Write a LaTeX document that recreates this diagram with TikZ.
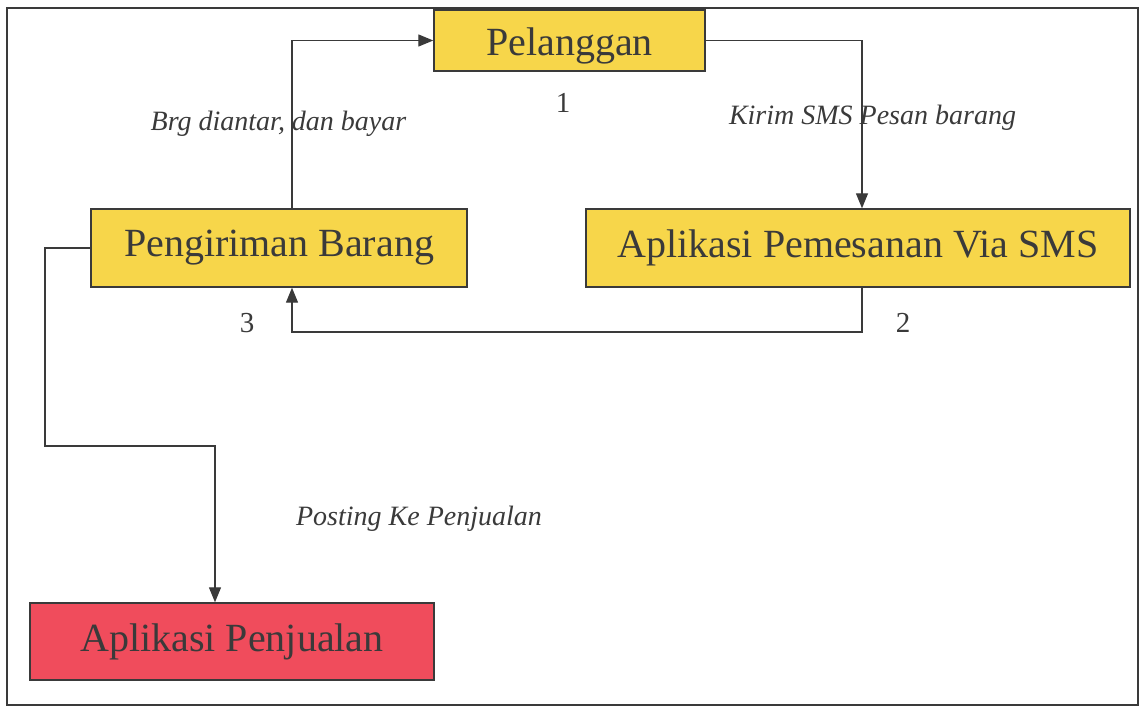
\documentclass[tikz,border=0pt]{standalone}
\usepackage{fontspec}
\setmainfont{Liberation Serif}
\usetikzlibrary{arrows.meta}
\definecolor{boxyellow}{RGB}{247,214,74}
\definecolor{boxred}{RGB}{240,76,92}
\definecolor{ink}{RGB}{58,58,58}
\tikzset{
  box/.style={draw=ink, line width=1.4pt, inner sep=0pt, text=ink,
    font=\fontsize{40}{46}\selectfont},
  conn/.style={draw=ink, line width=1.3pt},
  arr/.style={conn, -{Triangle[length=15pt,width=12pt]}},
  lbl/.style={text=ink, inner sep=0pt, font=\fontsize{28}{32}\selectfont\itshape},
  num/.style={text=ink, inner sep=0pt, font=\fontsize{29}{32}\selectfont},
}
\begin{document}
\begin{tikzpicture}[x=1pt,y=-1pt]
\useasboundingbox (0,0) rectangle (1146,707);
\draw[ink, line width=1.8pt] (7,8) rectangle (1138,705);

\node[box, fill=boxyellow, minimum width=271pt, minimum height=61pt, text height=37pt, text depth=8pt] (pel) at (569.5,40.5) {Pelanggan};
\node[box, fill=boxyellow, minimum width=376pt, minimum height=78pt] (peng) at (279,248) {Pengiriman Barang};
\node[box, fill=boxyellow, minimum width=544pt, minimum height=78pt] (sms) at (858,248) {Aplikasi Pemesanan Via SMS};
\node[box, fill=boxred, minimum width=404pt, minimum height=77pt] (penj) at (232,641.5) {Aplikasi Penjualan};

\coordinate (k1) at (45,446);
\coordinate (k2) at (862,332);

\draw[arr] ([xshift=13pt]peng.north) |- (pel.west);
\draw[arr] (pel.east) -| ([xshift=4pt]sms.north);
\draw[arr] ([xshift=4pt]sms.south) -- (k2) -| ([xshift=13pt]peng.south);
\draw[arr] (peng.west) -| (k1) -| ([xshift=-17pt]penj.north);

\node[num] (n1) at (563,103) {1};
\node[num] (n2) at (903,323) {2};
\node[num] (n3) at (247,323) {3};
\node[lbl] (l1) at (278.5,124) {Brg diantar, dan bayar};
\node[lbl] (l2) at (872.5,118) {Kirim SMS Pesan barang};
\node[lbl] (l3) at (419,519) {Posting Ke Penjualan};
\end{tikzpicture}
\end{document}
